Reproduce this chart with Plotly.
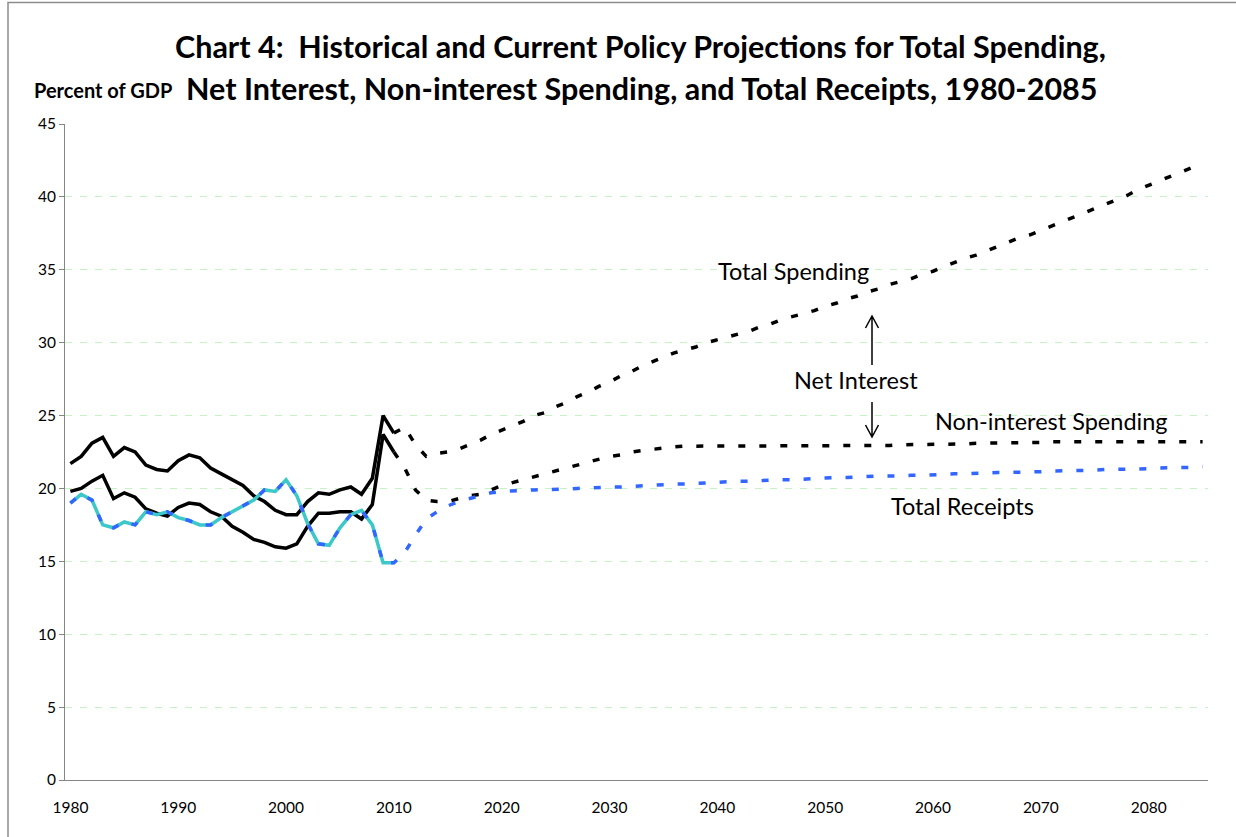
import plotly.graph_objects as go

# ---------------- data ----------------
hist_years = list(range(1980, 2011))
proj_years = list(range(2010, 2086))

total_hist = [21.7, 22.2, 23.1, 23.5, 22.2, 22.8, 22.5, 21.6, 21.3, 21.2,
              21.9, 22.3, 22.1, 21.4, 21.0, 20.6, 20.2, 19.5, 19.1, 18.5,
              18.2, 18.2, 19.1, 19.7, 19.6, 19.9, 20.1, 19.6, 20.7, 25.0,
              23.8]
nonint_hist = [19.8, 20.0, 20.5, 20.9, 19.3, 19.7, 19.4, 18.6, 18.3, 18.1,
               18.7, 19.0, 18.9, 18.4, 18.1, 17.4, 17.0, 16.5, 16.3, 16.0,
               15.9, 16.2, 17.4, 18.3, 18.3, 18.4, 18.4, 17.9, 18.9, 23.7,
               22.5]
receipts_hist = [19.0, 19.6, 19.2, 17.5, 17.3, 17.7, 17.5, 18.4, 18.2, 18.4,
                 18.0, 17.8, 17.5, 17.5, 18.0, 18.4, 18.8, 19.2, 19.9, 19.8,
                 20.6, 19.5, 17.6, 16.2, 16.1, 17.3, 18.2, 18.5, 17.5, 14.9,
                 14.9]

total_proj = [23.8, 24.2, 23.0, 22.2, 22.4, 22.5, 22.7, 23.0, 23.3, 23.7,
              24.0, 24.3, 24.6, 25.0, 25.2, 25.6, 25.9, 26.3, 26.6, 27.0,
              27.3, 27.7, 28.0, 28.4, 28.7, 29.0, 29.3, 29.5, 29.7, 30.0,
              30.2, 30.4, 30.6, 30.8, 31.1, 31.3, 31.6, 31.8, 32.0, 32.2,
              32.5, 32.7, 33.0, 33.2, 33.5, 33.7, 34.0, 34.2, 34.4, 34.7,
              34.9, 35.2, 35.5, 35.8, 36.0, 36.3, 36.6, 36.9, 37.2, 37.4,
              37.7, 38.0, 38.3, 38.6, 38.9, 39.2, 39.5, 39.8, 40.1, 40.5,
              40.8, 41.1, 41.4, 41.7, 42.0, 42.4]
nonint_proj = [22.5, 21.4, 19.9, 19.2, 19.1, 19.1, 19.3, 19.5, 19.6, 19.9,
               20.2, 20.4, 20.6, 20.8, 21.0, 21.2, 21.4, 21.6, 21.8, 22.0,
               22.2, 22.3, 22.5, 22.6, 22.7, 22.8, 22.85, 22.9, 22.9, 22.9,
               22.9, 22.9, 22.9, 22.9, 22.9, 22.9, 22.9, 22.9, 22.9, 22.9,
               22.9, 22.9, 22.95, 22.95, 22.95, 22.95, 22.95, 23.0, 23.0, 23.0,
               23.0, 23.0, 23.05, 23.05, 23.1, 23.1, 23.1, 23.1, 23.15, 23.15,
               23.15, 23.2, 23.2, 23.2, 23.2, 23.2, 23.2, 23.2, 23.2, 23.2,
               23.2, 23.2, 23.2, 23.2, 23.2, 23.2]
receipts_proj = [14.9, 15.6, 16.8, 17.9, 18.4, 18.8, 19.1, 19.3, 19.55, 19.7,
                 19.8, 19.8, 19.85, 19.9, 19.9, 19.95, 19.95, 20.0, 20.05, 20.05,
                 20.1, 20.1, 20.15, 20.2, 20.2, 20.25, 20.3, 20.3, 20.35, 20.4,
                 20.4, 20.45, 20.5, 20.5, 20.55, 20.55, 20.6, 20.6, 20.65, 20.7,
                 20.7, 20.75, 20.75, 20.8, 20.8, 20.85, 20.85, 20.9, 20.9, 20.9,
                 20.95, 20.95, 21.0, 21.0, 21.05, 21.05, 21.1, 21.1, 21.1, 21.15,
                 21.15, 21.2, 21.2, 21.2, 21.25, 21.25, 21.3, 21.3, 21.3, 21.35,
                 21.35, 21.4, 21.4, 21.45, 21.45, 21.5]

x_tick_vals = [1980, 1990, 2000, 2010, 2020, 2030, 2040, 2050, 2060, 2070, 2080]
y_tick_vals = [0, 5, 10, 15, 20, 25, 30, 35, 40, 45]

title_line1 = "Chart 4:  Historical and Current Policy Projections for Total Spending,"
title_line2 = "Net Interest, Non-interest Spending, and Total Receipts, 1980-2085"
y_label = "Percent of GDP"

# ---------------- styling ----------------
FONT = "Lato"
BLACK = "#000000"
CYAN = "#3CC8C8"
BLUE = "#3366FF"
DASH = "7px,14px"

fig = go.Figure()

# historical solid lines
fig.add_trace(go.Scatter(x=hist_years, y=total_hist, mode="lines",
                         line=dict(color=BLACK, width=3.5), hoverinfo="skip"))
fig.add_trace(go.Scatter(x=hist_years, y=nonint_hist, mode="lines",
                         line=dict(color=BLACK, width=3.5), hoverinfo="skip"))
fig.add_trace(go.Scatter(x=hist_years, y=receipts_hist, mode="lines",
                         line=dict(color=CYAN, width=3.5), hoverinfo="skip"))

# projections (dashed)
fig.add_trace(go.Scatter(x=proj_years, y=total_proj, mode="lines",
                         line=dict(color=BLACK, width=3.5, dash=DASH), hoverinfo="skip"))
fig.add_trace(go.Scatter(x=proj_years, y=nonint_proj, mode="lines",
                         line=dict(color=BLACK, width=3.5, dash=DASH), hoverinfo="skip"))
fig.add_trace(go.Scatter(x=hist_years[:-1] + proj_years,
                         y=receipts_hist[:-1] + receipts_proj, mode="lines",
                         line=dict(color=BLUE, width=3.5, dash=DASH), hoverinfo="skip"))

W, H = 1236, 837
L, R, T, B = 65, 28, 124, 57
X0, X1 = 1979.5, 2085.5
Y0, Y1 = 0, 45
pw = W - L - R
ph = H - T - B


def px_to_data(px, py):
    return (X0 + (px - L) / pw * (X1 - X0), Y0 + (H - B - py) / ph * (Y1 - Y0))


def px_to_paper(px, py):
    return ((px - L) / pw, (H - B - py) / ph)


annotations = []
for text, (px, py) in [("Total Spending", (793, 271)),
                       ("Net Interest", (856, 380)),
                       ("Non-interest Spending", (1051, 421)),
                       ("Total Receipts", (962, 506))]:
    dx, dy = px_to_data(px, py)
    annotations.append(dict(x=dx, y=dy, xref="x", yref="y", text=text, showarrow=False,
                            font=dict(family=FONT, size=23.5, color=BLACK),
                            xanchor="center", yanchor="middle"))

for text, (px, py), size in [(title_line1, (640, 46), 30.5),
                             (title_line2, (641, 88), 30.5)]:
    ax_, ay_ = px_to_paper(px, py)
    annotations.append(dict(x=ax_, y=ay_, xref="paper", yref="paper", text="<b>" + text + "</b>",
                            showarrow=False, font=dict(family=FONT, size=size, color=BLACK),
                            xanchor="center", yanchor="middle"))
ax_, ay_ = px_to_paper(103, 90)
annotations.append(dict(x=ax_, y=ay_, xref="paper", yref="paper", text="<b>" + y_label + "</b>",
                        showarrow=False, font=dict(family=FONT, size=20, color=BLACK),
                        xanchor="center", yanchor="middle"))

# arrows (drawn as path shapes)
shapes = []
ux, utip = px_to_data(872, 316)
_, utail = px_to_data(872, 365)
hx = 6.5 / pw * (X1 - X0)
hy = 12 / ph * (Y1 - Y0)
shapes.append(dict(type="path", xref="x", yref="y",
                   path=f"M {ux},{utail} L {ux},{utip} M {ux-hx},{utip-hy} L {ux},{utip} L {ux+hx},{utip-hy}",
                   line=dict(color=BLACK, width=1.5)))
_, dtail = px_to_data(872, 402)
_, dtip = px_to_data(872, 437)
shapes.append(dict(type="path", xref="x", yref="y",
                   path=f"M {ux},{dtail} L {ux},{dtip} M {ux-hx},{dtip+hy} L {ux},{dtip} L {ux+hx},{dtip+hy}",
                   line=dict(color=BLACK, width=1.5)))

# chart-area border (cropped at right/bottom)
bx0, by0 = px_to_paper(8, 2.5)
bx1, by1 = px_to_paper(1250, 850)
shapes.append(dict(type="rect", xref="paper", yref="paper", x0=bx0, y0=by1, x1=bx1, y1=by0,
                   line=dict(color="#8C8C8C", width=1.5), fillcolor="rgba(0,0,0,0)", layer="below"))

fig.update_layout(
    width=W, height=H,
    margin=dict(l=L, r=R, t=T, b=B, pad=0),
    paper_bgcolor="white", plot_bgcolor="white",
    showlegend=False,
    annotations=annotations,
    shapes=shapes,
    font=dict(family=FONT, color=BLACK),
    xaxis=dict(range=[X0, X1], tickvals=x_tick_vals, ticktext=[str(v) for v in x_tick_vals],
               showgrid=False, zeroline=False, showline=True, linecolor="#868686", linewidth=1,
               ticks="outside", ticklen=13, tickcolor="rgba(0,0,0,0)",
               tickfont=dict(family=FONT, size=15.5, color=BLACK)),
    yaxis=dict(range=[Y0, Y1], tickvals=y_tick_vals,
               showgrid=True, gridcolor="#C6F2C6", gridwidth=1, griddash="7px,8px",
               zeroline=False, showline=True, linecolor="#868686", linewidth=1,
               ticks="outside", ticklen=5, tickcolor="#868686",
               tickfont=dict(family=FONT, size=15.5, color=BLACK)),
)

fig.write_html("out.html",
               config={"displayModeBar": False},
               post_script="document.body.style.margin='0';document.body.style.overflow='hidden';")
